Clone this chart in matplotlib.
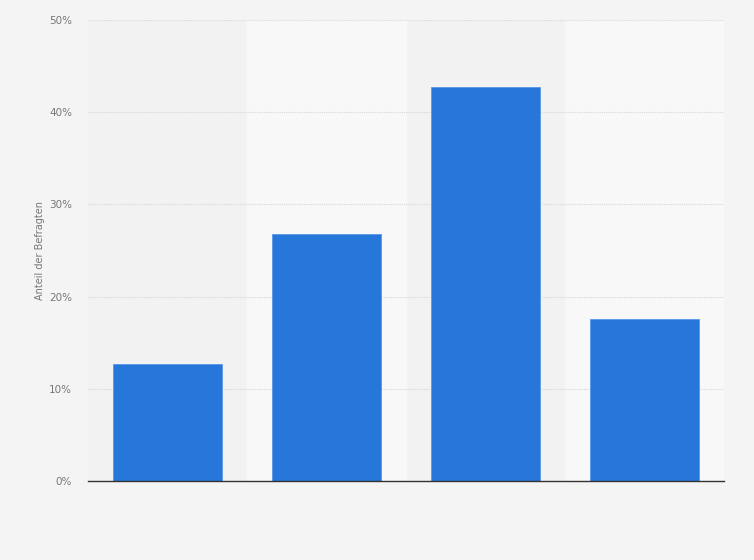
import numpy as np
import matplotlib.pyplot as plt

# Werte (Anteil der Befragten in %)
categories = ['A', 'B', 'C', 'D']
values = [12.7, 26.8, 42.7, 17.6]
yticks = [0, 10, 20, 30, 40, 50]
ytick_labels = ['0%', '10%', '20%', '30%', '40%', '50%']

fig = plt.figure(figsize=(7.54, 5.6), dpi=100, facecolor='#f4f4f4')
ax = fig.add_axes([88/754, 79/560, 636/754, 461/560])
ax.set_facecolor('#f2f2f2')

x = np.arange(len(categories))

# helle Streifen hinter jeder zweiten Kategorie
for i in x:
    if i % 2 == 1:
        ax.axvspan(i - 0.5, i + 0.5, color='#f8f8f8', zorder=0)

ax.bar(x, values, width=0.685, color='#2776d9', edgecolor='#5b98e6', linewidth=0.6, zorder=3)

ax.set_xlim(-0.5, len(categories) - 0.5)
ax.set_ylim(0, 50)
ax.set_yticks(yticks)
ax.set_yticklabels(ytick_labels)
ax.set_xticks([])
ax.tick_params(axis='y', length=0, pad=11.5, labelsize=7.5, labelcolor='#777777')

ax.grid(axis='y', color='#d8d8d8', linestyle=(0, (1, 1)), linewidth=0.8, zorder=1)
for side in ['top', 'right', 'left']:
    ax.spines[side].set_visible(False)
ax.spines['bottom'].set_color('#333333')
ax.spines['bottom'].set_linewidth(1.0)
ax.spines['bottom'].set_zorder(4)

fig.text(40/754, 1 - 250/560, 'Anteil der Befragten', rotation=90,
         ha='center', va='center', fontsize=7, color='#777777')

fig.savefig('out.png', dpi=100, facecolor=fig.get_facecolor())
